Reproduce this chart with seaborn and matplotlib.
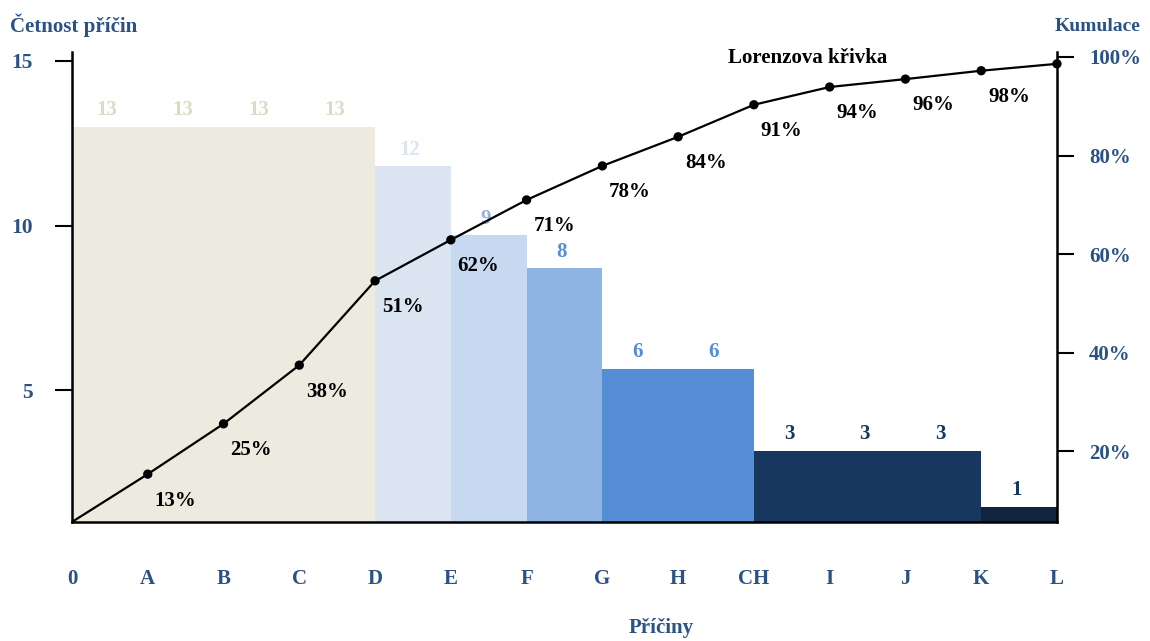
import matplotlib
matplotlib.use("Agg")
import matplotlib.pyplot as plt
import seaborn as sns
import pandas as pd

# Categories on the x axis (interval boundaries)
tick_labels = ["0", "A", "B", "C", "D", "E", "F", "G", "H", "CH", "I", "J", "K", "L"]
# Bar heights per interval (as drawn) and the numbers written above them
bar_heights = [13, 13, 13, 13, 11.8, 9.7, 8.7, 5.65, 5.65, 3.15, 3.15, 3.15, 1.45]
bar_labels = ["13", "13", "13", "13", "12", "9", "8", "6", "6", "3", "3", "3", "1"]
bar_colors = ["#EDEAE0", "#EDEAE0", "#EDEAE0", "#EDEAE0", "#DBE5F1", "#C6D9F0", "#8EB4E3",
              "#558ED5", "#558ED5", "#17375E", "#17375E", "#17375E", "#10243F"]
label_colors = ["#DDD9C3", "#DDD9C3", "#DDD9C3", "#DDD9C3", "#DBE5F1", "#95B3D7", "#558ED5",
                "#558ED5", "#558ED5", "#17375E", "#17375E", "#17375E", "#17375E"]
# Lorenz curve (cumulative %) as drawn, and the written percentages
curve_pct = [5.7, 15.4, 25.6, 37.5, 54.6, 62.9, 71.0, 77.9, 83.8, 90.3, 93.9, 95.5, 97.2, 98.6]
pct_labels = ["13%", "25%", "38%", "51%", "62%", "71%", "78%", "84%", "91%", "94%", "96%", "98%"]

blue = "#2B5285"

sns.set_style("white")
plt.rcParams["font.family"] = ["Liberation Serif", "DejaVu Serif"]
plt.rcParams["font.weight"] = "bold"

fig = plt.figure(figsize=(11.5, 6.41), dpi=100)
ax = fig.add_axes([0.0626, 0.1857, 0.9191 - 0.0626, 0.9189 - 0.1857])

# Bars, one per interval
bars = pd.DataFrame({"x": [i + 0.5 for i in range(len(bar_heights))],
                     "h": bar_heights,
                     "k": [str(i) for i in range(len(bar_heights))]})
sns.barplot(data=bars, x="x", y="h", hue="k", palette=dict(zip(bars["k"], bar_colors)),
            native_scale=True, width=1, dodge=False, legend=False, saturation=1,
            linewidth=0, ax=ax)
for i, (h, t) in enumerate(zip(bar_heights, bar_labels)):
    ax.annotate(t, (i + 0.5, h), xytext=(-2, 12), textcoords="offset points",
                ha="center", va="center", fontsize=15, color=label_colors[i], fontweight="bold")

ax.set_xlim(0, 13)
ax.set_ylim(1.0, 15.27)
ax.set_xticks(range(len(tick_labels)))
ax.set_xticklabels(tick_labels)
ax.set_yticks([5, 10, 15])
ax.set_xlabel("")
ax.set_ylabel("")
ax.tick_params(axis="x", direction="out", length=17, width=1.5, pad=17, labelsize=15,
               labelcolor=blue, color="black")
ax.tick_params(axis="y", direction="out", length=12, width=1.5, pad=16, labelsize=15.5,
               labelcolor=blue, color="black")
for s in ["top", "right"]:
    ax.spines[s].set_visible(False)
for s in ["left", "bottom"]:
    ax.spines[s].set_linewidth(1.8)
    ax.spines[s].set_color("black")

# Cumulative axis with Lorenz curve
ax2 = ax.twinx()
curve = pd.DataFrame({"x": range(len(curve_pct)), "p": curve_pct})
sns.lineplot(data=curve, x="x", y="p", color="black", linewidth=1.6, ax=ax2)
sns.scatterplot(data=curve.iloc[1:], x="x", y="p", color="black", s=45, edgecolor="none",
                clip_on=False, zorder=5, ax=ax2)
for i, t in enumerate(pct_labels):
    ax2.annotate(t, (i + 1, curve_pct[i + 1]), xytext=(20, -19), textcoords="offset points",
                 ha="center", va="center", fontsize=15, color="black", fontweight="bold")
ax2.set_ylim(5.7, 101)
ax2.set_xlim(0, 13)
ax2.set_yticks([20, 40, 60, 80, 100])
ax2.set_yticklabels(["20%", "40%", "60%", "80%", "100%"])
ax2.set_xlabel("")
ax2.set_ylabel("")
ax2.tick_params(axis="y", direction="out", length=12, width=1.5, pad=11, labelsize=15,
                labelcolor=blue, color="black")
for s in ["top", "left", "bottom"]:
    ax2.spines[s].set_visible(False)
ax2.spines["right"].set_linewidth(1.8)
ax2.spines["right"].set_color("black")

fig.text(0.0087, 0.961, "Četnost příčin", fontsize=15, color=blue, fontweight="bold", va="center")
fig.text(0.954, 0.958, "Kumulace", fontsize=14, color=blue, fontweight="bold", va="center", ha="center")
fig.text(0.575, 0.02, "Příčiny", fontsize=15, color=blue, fontweight="bold", va="center", ha="center")
fig.text(0.702, 0.9095, "Lorenzova křivka", fontsize=15, color="black", fontweight="bold",
         va="center", ha="center")

fig.savefig("out.png", dpi=100)
